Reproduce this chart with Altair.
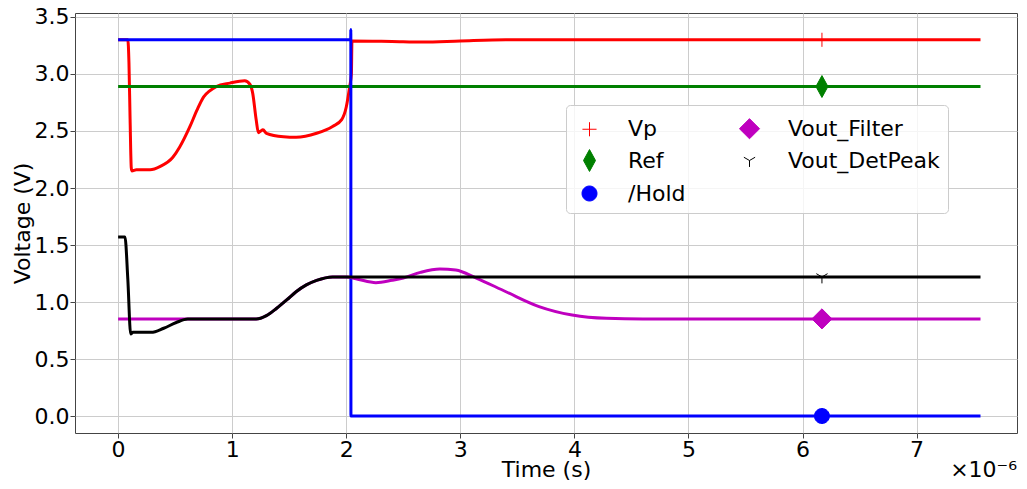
import altair as alt
import pandas as pd

# ---- series (time in units of 1e-6 s, voltage in V) ----
series_names = ["Vp", "Ref", "/Hold", "Vout_Filter", "Vout_DetPeak"]
series_colors = ["#ff0000", "#008000", "#0000ff", "#bf00bf", "#000000"]

vp_t = [0, 0.085, 0.095, 0.105, 0.115, 0.12, 0.16, 0.28, 0.37, 0.48, 0.54, 0.63, 0.69, 0.75,
        0.80, 0.86, 0.98, 1.11, 1.155, 1.18, 1.21, 1.23, 1.25, 1.27, 1.30, 1.45, 1.56, 1.74,
        1.88, 1.96, 2.00, 2.03, 2.045, 2.05, 2.4, 2.67, 3.0, 3.4, 3.6, 7.56]
vp_v = [3.30, 3.30, 3.10, 2.60, 2.18, 2.15, 2.16, 2.16, 2.19, 2.27, 2.36, 2.54, 2.68, 2.80,
        2.85, 2.89, 2.92, 2.94, 2.91, 2.83, 2.60, 2.485, 2.50, 2.51, 2.48, 2.45, 2.445, 2.48,
        2.54, 2.60, 2.71, 2.89, 3.00, 3.29, 3.285, 3.28, 3.29, 3.30, 3.30, 3.30]

ref_t = [0, 7.56]
ref_v = [2.89, 2.89]

hold_t = [0, 2.039, 2.04, 2.041, 7.56]
hold_v = [3.30, 3.30, 3.39, 0.0, 0.0]

filt_t = [0, 1.21, 1.30, 1.39, 1.48, 1.56, 1.65, 1.74, 1.88, 2.0, 2.1, 2.26, 2.40, 2.50,
          2.65, 2.82, 2.96, 3.14, 3.40, 3.69, 3.98, 4.28, 4.6, 7.56]
filt_v = [0.85, 0.85, 0.88, 0.945, 1.02, 1.09, 1.15, 1.19, 1.22, 1.22, 1.20, 1.17, 1.19, 1.21,
          1.26, 1.29, 1.28, 1.21, 1.09, 0.96, 0.886, 0.857, 0.852, 0.852]

det_t = [0, 0.06, 0.085, 0.11, 0.13, 0.29, 0.40, 0.51, 0.61, 1.21, 1.30, 1.39, 1.48, 1.56,
         1.65, 1.74, 1.88, 2.0, 7.56]
det_v = [1.57, 1.57, 1.20, 0.72, 0.734, 0.734, 0.77, 0.82, 0.85, 0.85, 0.88, 0.945, 1.02, 1.09,
         1.15, 1.19, 1.22, 1.22, 1.22]

# one marker per series (matplotlib markevery)
marker_t = 6.17
marker_v = [3.30, 2.89, 0.0, 0.852, 1.22]

x_ticks = [0, 1, 2, 3, 4, 5, 6, 7]
y_ticks = [0.0, 0.5, 1.0, 1.5, 2.0, 2.5, 3.0, 3.5]
offset_label = "×10⁻⁶"

# ---- marker shapes (custom paths, unit = sqrt(size)/2 px) ----
marker_paths = {
    "Vp": "M-0.47,0L0.47,0M0,-0.47L0,0.47",
    "Ref": "M0,-0.73L0.4,0L0,0.73L-0.4,0Z",
    "/Hold": "M0.5,0A0.5,0.5,0,1,1,-0.5,0A0.5,0.5,0,1,1,0.5,0Z",
    "Vout_Filter": "M0,-0.67L0.67,0L0,0.67L-0.67,0Z",
    "Vout_DetPeak": "M0,0L0,0.43M0,0L-0.375,-0.217M0,0L0.375,-0.217",
}

rows = []
for name, ts, vs in zip(series_names, [vp_t, ref_t, hold_t, filt_t, det_t],
                        [vp_v, ref_v, hold_v, filt_v, det_v]):
    for i, (t, v) in enumerate(zip(ts, vs)):
        rows.append({"series": name, "t": t, "v": v, "idx": i})
line_df = pd.DataFrame(rows)
marker_df = pd.DataFrame({"series": series_names, "t": [marker_t] * 5, "v": marker_v})
text_df = pd.DataFrame({"label": [offset_label]})

FONT = "DejaVu Sans"
W, H = 942, 420

x_scale = alt.Scale(domain=[-0.378, 7.88], nice=False, zero=False)
y_scale = alt.Scale(domain=[-0.149, 3.535], nice=False, zero=False)

x_axis = alt.Axis(values=x_ticks, format="d", title="Time (s)",
                  titleBaseline="alphabetic", titleY=43)
y_axis = alt.Axis(values=y_ticks, format=".1f", title="Voltage (V)", titlePadding=0)

# line colour scale uses reversed domain order so its (hidden) legend is not merged
lines = alt.Chart(line_df).mark_line(strokeWidth=3, interpolate="monotone").encode(
    x=alt.X("t:Q", scale=x_scale, axis=x_axis),
    y=alt.Y("v:Q", scale=y_scale, axis=y_axis),
    color=alt.Color("series:N", scale=alt.Scale(domain=series_names[::-1],
                                                range=series_colors[::-1]),
                    legend=None),
    detail="series:N",
    order=alt.Order("idx:Q"),
)

leg = alt.Legend(
    title=None, orient="none", legendX=491, legendY=92, columns=2,
    columnPadding=48, rowPadding=4, padding=8, symbolSize=900, symbolStrokeWidth=1,
    labelFont=FONT, labelFontSize=22, labelOffset=23, labelColor="black",
    fillColor="rgba(255,255,255,0.8)", strokeColor="#cccccc", cornerRadius=4,
    labelLimit=400, symbolOpacity=1,
)

points = alt.Chart(marker_df).mark_point(filled=True, size=900, strokeWidth=1, opacity=1).encode(
    x=alt.X("t:Q", scale=x_scale),
    y=alt.Y("v:Q", scale=y_scale),
    fill=alt.Fill("series:N", scale=alt.Scale(domain=series_names, range=series_colors), legend=leg),
    stroke=alt.Stroke("series:N", scale=alt.Scale(domain=series_names, range=series_colors), legend=leg),
    shape=alt.Shape("series:N", scale=alt.Scale(domain=series_names,
                                                range=[marker_paths[s] for s in series_names]),
                    legend=leg),
)

offset_text = alt.Chart(text_df).mark_text(
    align="right", baseline="alphabetic", font=FONT, fontSize=22, color="black"
).encode(x=alt.value(W), y=alt.value(H + 44), text="label:N")

chart = alt.layer(lines, points, offset_text).properties(
    width=W, height=H,
    autosize=alt.AutoSizeParams(type="none"),
    padding={"left": 67, "top": 5, "right": 2, "bottom": 48},
    background="white",
).configure_view(
    stroke="#444444", strokeWidth=1
).configure_axis(
    labelFont=FONT, labelFontSize=22, labelColor="black",
    titleFont=FONT, titleFontSize=22, titleFontWeight="normal", titleColor="black",
    grid=True, gridColor="#cccccc", gridWidth=1,
    domain=False, tickColor="#444444", tickSize=5, tickWidth=1, labelPadding=1,
)

chart.save("out.html", embed_options={"renderer": "svg", "actions": False})
